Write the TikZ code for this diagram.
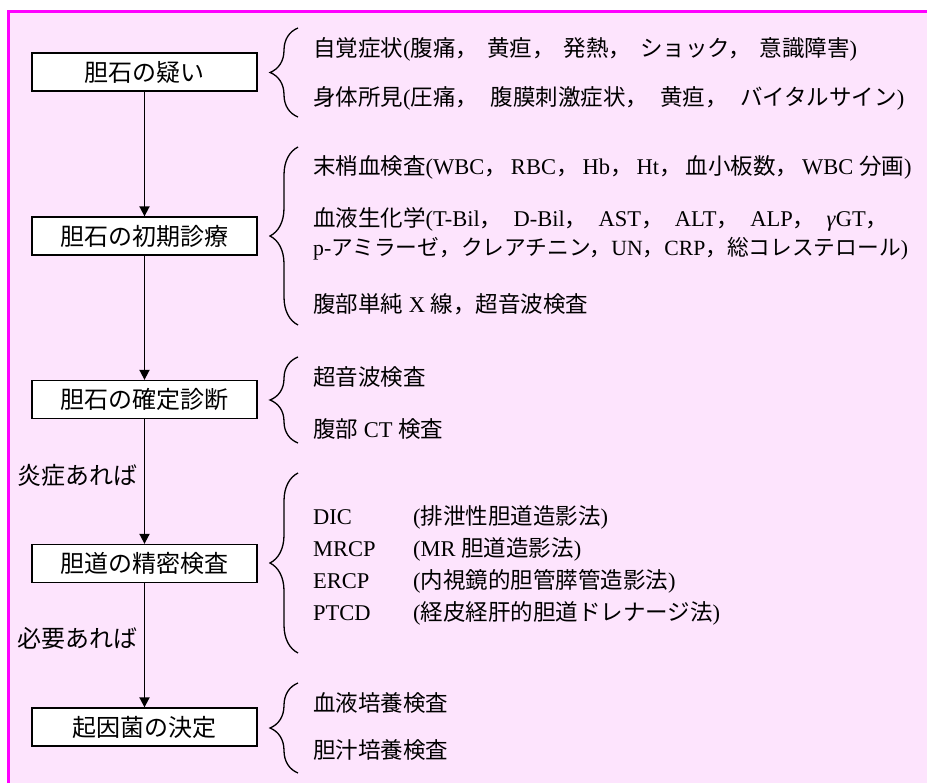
\documentclass[tikz,border=0pt]{standalone}
\usepackage{fontspec}
\setmainfont{Liberation Serif}
\newfontfamily\jpfont{Noto Sans CJK JP}
\usetikzlibrary{arrows.meta,decorations.pathreplacing}
\XeTeXinterchartokenstate=1
\newXeTeXintercharclass\jpclass
\newcount\jpcc
\def\jprange#1#2{\jpcc=#1\relax\loop\XeTeXcharclass\jpcc=\jpclass\relax\ifnum\jpcc<#2\relax\advance\jpcc by 1\repeat}
\jprange{"3000}{"30FF}
\jprange{"4E00}{"9FFF}
\jprange{"FF00}{"FFEF}
\XeTeXinterchartoks 0 \jpclass = {\jpfont}
\XeTeXinterchartoks 4095 \jpclass = {\jpfont}
\XeTeXinterchartoks \jpclass 0 = {\rmfamily}
\XeTeXinterchartoks \jpclass 4095 = {\rmfamily}
\newcommand{\cmsp}{0pt}
\newcommand{\cm}{，\hspace{\cmsp}}
\definecolor{pinkbg}{RGB}{253,228,253}
\definecolor{frameline}{RGB}{255,0,255}
\begin{document}
\begin{tikzpicture}[x=1pt,y=-1pt,
  box/.style={draw=black,fill=white,line width=1.3pt,minimum width=225pt,minimum height=38pt,inner sep=0pt,font=\fontsize{24pt}{28pt}\selectfont},
  flow/.style={line width=1.8pt,-{Triangle[length=10pt,width=10pt]}},
  brc/.style={decorate,decoration={brace,amplitude=28pt},line width=1.3pt},
  side/.style={anchor=base west,inner sep=0pt,font=\fontsize{22.5pt}{27pt}\selectfont},
  lbl/.style={anchor=west,inner sep=0pt,font=\fontsize{24pt}{28pt}\selectfont}]
\useasboundingbox (0,0) rectangle (927,783);
\fill[pinkbg] (8.5,11.5) rectangle (927,783);
\draw[frameline,line width=3pt] (8.5,783) -- (8.5,11.5) -- (927,11.5);
% boxes
\node[box] (b1) at (144.5,72) {胆石の疑い};
\node[box] (b2) at (144.5,236) {胆石の初期診療};
\node[box] (b3) at (144.5,399.5) {胆石の確定診断};
\node[box] (b4) at (144.5,563.5) {胆道の精密検査};
\node[box] (b5) at (144.5,727) {起因菌の決定};
\draw[flow] (b1.south) -- (b2.north);
\draw[flow] (b2.south) -- (b3.north);
\draw[flow] (b3.south) -- (b4.north);
\draw[flow] (b4.south) -- (b5.north);
\node[lbl] (l1) at (17,475) {炎症あれば};
\node[lbl] (l2) at (17,638) {必要あれば};
% braces
\coordinate (r1a) at (298,117); \coordinate (r1b) at (298,28);
\coordinate (r2a) at (298,325); \coordinate (r2b) at (298,147);
\coordinate (r3a) at (298,443); \coordinate (r3b) at (298,357);
\coordinate (r4a) at (298,653); \coordinate (r4b) at (298,473);
\coordinate (r5a) at (298,773); \coordinate (r5b) at (298,683);
\draw[brc] (r1a) -- (r1b);
\draw[brc] (r2a) -- (r2b);
\draw[brc] (r3a) -- (r3b);
\draw[brc] (r4a) -- (r4b);
\draw[brc] (r5a) -- (r5b);
% side texts
\node[side] (t1) at (313,56.5) {\renewcommand{\cmsp}{0.4em}自覚症状(腹痛\cm 黄疸\cm 発熱\cm ショック\cm 意識障害)};
\node[side] (t2) at (313,105.5) {\renewcommand{\cmsp}{0.55em}身体所見(圧痛\cm 腹膜刺激症状\cm 黄疸\cm バイタルサイン)};
\node[side] (t3) at (313,174.5) {\renewcommand{\cmsp}{0.18em}末梢血検査(WBC\cm RBC\cm Hb\cm Ht\cm 血小板数\cm WBC 分画)};
\node[side] (t4) at (313,226.5) {\renewcommand{\cmsp}{0.5em}血液生化学(T-Bil\cm D-Bil\cm AST\cm ALT\cm ALP\cm \textit{γ}GT，};
\node[side,font=\fontsize{21.7pt}{26pt}\selectfont] (t5) at (313,255.5) {p-アミラーゼ，クレアチニン，UN，CRP，総コレステロール)};
\node[side] (t6) at (313,312.5) {腹部単純 X 線，超音波検査};
\node[side] (t7) at (313,385.5) {超音波検査};
\node[side] (t8) at (313,437.5) {腹部 CT 検査};
\node[side] (t9) at (313,524.5) {DIC};
\node[side] (t10) at (313,556.5) {MRCP};
\node[side] (t11) at (313,588.5) {ERCP};
\node[side] (t12) at (313,620.5) {PTCD};
\node[side] (p9) at (413,524.5) {(排泄性胆道造影法)};
\node[side] (p10) at (413,556.5) {(MR 胆道造影法)};
\node[side] (p11) at (413,588.5) {(内視鏡的胆管膵管造影法)};
\node[side] (p12) at (413,620.5) {(経皮経肝的胆道ドレナージ法)};
\node[side] (t13) at (313,711.5) {血液培養検査};
\node[side] (t14) at (313,758.5) {胆汁培養検査};
\end{tikzpicture}
\end{document}
